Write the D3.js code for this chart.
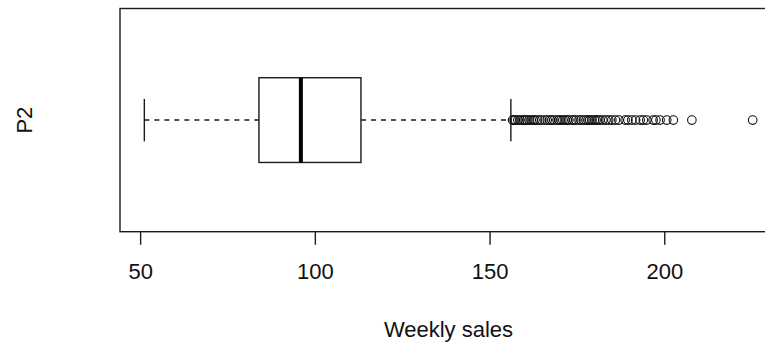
<!DOCTYPE html>
<html>
<head>
<meta charset="utf-8">
<script src="https://cdn.jsdelivr.net/npm/d3@7"></script>
<style>
  html, body { margin: 0; padding: 0; background: #fff; }
  svg { display: block; }
  text { font-family: "Liberation Sans", Arial, sans-serif; fill: #111; }
</style>
</head>
<body>
<div id="chart"></div>
<script>
// Horizontal box plot of weekly sales for product P2
const categories = ["P2"];
const lowerWhisker = [51.2];
const q1 = [84.0];
const median = [96.0];
const q3 = [113.2];
const upperWhisker = [156.1];
// Points beyond the upper whisker
const outliers = [
  156.6, 157.0, 157.4, 158.1, 158.6, 159.3, 159.8, 160.2, 160.7, 161.3,
  161.9, 162.5, 163.0, 163.6, 164.4, 164.9, 165.9, 166.5, 167.3, 167.8,
  168.4, 169.3, 169.8, 170.4, 171.0, 171.6, 172.2, 172.7, 173.6, 174.1,
  174.7, 175.6, 176.2, 177.0, 177.6, 178.2, 178.7, 179.3, 180.0, 180.5,
  181.0, 181.6, 182.4, 183.3, 184.1, 185.0, 186.0, 187.0, 188.8, 189.6,
  190.7, 191.8, 193.1, 194.0, 195.0, 196.8, 197.6, 198.8, 200.7, 202.6,
  207.9, 225.3
];
const tickValues = [50, 100, 150, 200];
const xLabel = "Weekly sales";

const W = 765, H = 347;
const plot = { left: 120, right: 777, top: 8.5, bottom: 231.7 };
const fontSize = 22;

const svg = d3.select("#chart").append("svg")
  .attr("width", W).attr("height", H);

// x range padded by 4% on each side of the data extent
const dataMin = d3.min([...lowerWhisker, ...outliers]);
const dataMax = d3.max([...upperWhisker, ...outliers]);
const pad = (dataMax - dataMin) * 0.04;
const x = d3.scaleLinear()
  .domain([dataMin - pad, dataMax + pad])
  .range([plot.left, plot.right]);

// one group centred at 1, padded the same way
const y = d3.scaleLinear()
  .domain([0.5 - 0.04, 1.5 + 0.04])
  .range([plot.bottom, plot.top]);

const boxHalf = 0.205;
const stapleHalf = boxHalf / 2;
const ink = "#1a1a1a";

const g = svg.append("g");

categories.forEach((c, i) => {
  const cy = y(i + 1);

  // dashed whiskers
  [[lowerWhisker[i], q1[i]], [q3[i], upperWhisker[i]]].forEach(([a, b]) => {
    g.append("line")
      .attr("x1", x(a)).attr("x2", x(b))
      .attr("y1", cy).attr("y2", cy)
      .attr("stroke", ink).attr("stroke-width", 1.5)
      .attr("stroke-dasharray", "5,5");
  });

  // staples
  [lowerWhisker[i], upperWhisker[i]].forEach(v => {
    g.append("line")
      .attr("x1", x(v)).attr("x2", x(v))
      .attr("y1", y(i + 1 + stapleHalf)).attr("y2", y(i + 1 - stapleHalf))
      .attr("stroke", ink).attr("stroke-width", 1.4);
  });

  // box
  g.append("rect")
    .attr("x", x(q1[i]))
    .attr("y", y(i + 1 + boxHalf))
    .attr("width", x(q3[i]) - x(q1[i]))
    .attr("height", y(i + 1 - boxHalf) - y(i + 1 + boxHalf))
    .attr("fill", "none")
    .attr("stroke", ink).attr("stroke-width", 1.4);

  // median
  g.append("line")
    .attr("x1", x(median[i])).attr("x2", x(median[i]))
    .attr("y1", y(i + 1 + boxHalf)).attr("y2", y(i + 1 - boxHalf))
    .attr("stroke", "#000").attr("stroke-width", 4);

  // outliers
  g.selectAll(null).data(outliers).enter().append("circle")
    .attr("cx", d => x(d)).attr("cy", cy).attr("r", 4.3)
    .attr("fill", "none").attr("stroke", "#111").attr("stroke-width", 1.1);
});

// plot frame
svg.append("rect")
  .attr("x", plot.left).attr("y", plot.top)
  .attr("width", plot.right - plot.left)
  .attr("height", plot.bottom - plot.top)
  .attr("fill", "none").attr("stroke", ink).attr("stroke-width", 1.4);

// bottom axis
const axis = d3.axisBottom(x).tickValues(tickValues).tickSize(13).tickPadding(19)
  .tickFormat(d3.format("d"));
const ax = svg.append("g")
  .attr("transform", `translate(0,${plot.bottom})`)
  .call(axis);
ax.select(".domain").remove();
ax.selectAll(".tick line").attr("stroke", ink).attr("stroke-width", 1.4);
ax.selectAll(".tick text")
  .attr("font-size", fontSize)
  .attr("font-family", "Liberation Sans, Arial, sans-serif")
  .attr("fill", "#111");

// axis titles
svg.append("text")
  .attr("x", (plot.left + plot.right) / 2)
  .attr("y", 337.4)
  .attr("text-anchor", "middle")
  .attr("font-size", fontSize)
  .text(xLabel);

svg.append("text")
  .attr("transform", `translate(31.5,${y(1)}) rotate(-90)`)
  .attr("text-anchor", "middle")
  .attr("font-size", fontSize)
  .text(categories[0]);
</script>
</body>
</html>
